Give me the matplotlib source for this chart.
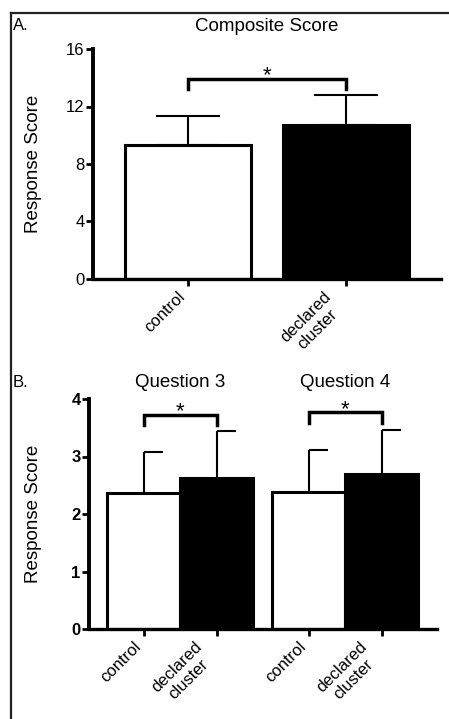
import numpy as np
import matplotlib
matplotlib.use('Agg')
import matplotlib.pyplot as plt
from matplotlib.lines import Line2D
import matplotlib.transforms as mtransforms

plt.rcParams['font.family'] = ['Liberation Sans', 'DejaVu Sans']

# panel A data
comp_labels = ['control', 'declared\ncluster']
comp_means = [9.32, 10.71]
comp_err = [2.00, 2.07]
comp_bracket = 13.9
comp_yticks = [0, 4, 8, 12, 16]

# panel B data
q_titles = ['Question 3', 'Question 4']
q_labels = ['control', 'declared\ncluster']
q_means = [[2.37, 2.63], [2.38, 2.69]]
q_err = [[0.71, 0.81], [0.73, 0.77]]
q_brackets = [3.73, 3.77]
q_yticks = [0, 1, 2, 3, 4]

fig = plt.figure(figsize=(4.49, 7.19), dpi=100)

# frame lines round the figure (top and left only)
fig.add_artist(Line2D([11/449, 1.0], [1-13/719, 1-13/719], color='#222222', lw=1.6))
fig.add_artist(Line2D([11/449, 11/449], [0.0, 1-13/719], color='#222222', lw=1.6))

bar_colors = ['white', 'black']


def style_axes(ax):
    for s in ['top', 'right']:
        ax.spines[s].set_visible(False)
    ax.spines['left'].set_linewidth(2.8)
    ax.spines['bottom'].set_linewidth(2.4)
    ax.tick_params(axis='both', direction='out', length=5, width=2, labelsize=12)
    ax.tick_params(axis='y', pad=1)
    ax.tick_params(axis='x', pad=2)


# ---------- A ----------
axA = fig.add_axes([93/449, 1-279/719, 348/449, 230/719])
xa = np.arange(len(comp_means))
axA.errorbar(xa, comp_means, yerr=[np.zeros(len(xa)), comp_err], fmt='none',
             ecolor='black', elinewidth=1.5, capsize=23, capthick=1.5, zorder=1)
axA.bar(xa, comp_means, width=0.8, color=bar_colors, edgecolor='black', linewidth=2.2, zorder=2)
axA.plot([xa[0], xa[0], xa[1], xa[1]],
         [comp_bracket-0.7, comp_bracket, comp_bracket, comp_bracket-0.7],
         color='black', lw=2.5, solid_joinstyle='miter')
axA.text(xa.mean(), comp_bracket-0.12, '*', ha='center', va='baseline', fontsize=16)
axA.set_xlim(-0.601, 1.601)
axA.set_ylim(0, 16)
axA.set_yticks(comp_yticks)
axA.set_xticks(xa)
axA.set_xticklabels(comp_labels, rotation=45, ha='right', va='top', multialignment='center')
style_axes(axA)
axA.set_ylabel('Response Score', fontsize=13.5)
axA.yaxis.set_label_coords(-0.147, 0.5)
axA.set_title('Composite Score', fontsize=13.5, pad=13)
fig.text(13/449, 1-30.5/719, 'A.', fontsize=12, ha='left', va='baseline')

# ---------- B ----------
axB = fig.add_axes([89/449, 1-629/719, 348/449, 230/719])
group_gap = 2.26
cap_len = 0.26
tick_pos = []
tick_lab = []
trans = mtransforms.blended_transform_factory(axB.transData, axB.transAxes)
for g in range(len(q_titles)):
    xb = g*group_gap + np.arange(len(q_means[g]))
    tops = np.array(q_means[g]) + np.array(q_err[g])
    axB.vlines(xb, q_means[g], tops, color='black', lw=1.5, zorder=1)
    axB.hlines(tops, xb, xb+cap_len, color='black', lw=1.5, zorder=1)
    axB.bar(xb, q_means[g], width=1.0, color=bar_colors, edgecolor='black', linewidth=2.2, zorder=2)
    b = q_brackets[g]
    axB.plot([xb[0], xb[0], xb[1], xb[1]], [b-0.19, b, b, b-0.19],
             color='black', lw=2.5, solid_joinstyle='miter')
    axB.text(xb.mean(), b-0.05, '*', ha='center', va='baseline', fontsize=16)
    axB.text(xb.mean(), 1.0535, q_titles[g], transform=trans, ha='center', va='baseline', fontsize=13.5)
    tick_pos.extend(xb)
    tick_lab.extend(q_labels)
axB.set_xlim(-0.753, 4.014)
axB.set_ylim(0, 4)
axB.set_yticks(q_yticks)
axB.set_xticks(tick_pos)
axB.set_xticklabels(tick_lab, rotation=45, ha='right', va='top', multialignment='center')
style_axes(axB)
for t in axB.get_yticklabels():
    t.set_fontweight('bold')
axB.set_ylabel('Response Score', fontsize=13.5)
axB.yaxis.set_label_coords(-0.135, 0.5)
fig.text(13/449, 1-386.7/719, 'B.', fontsize=12, ha='left', va='baseline')

fig.savefig('out.png', dpi=100)
